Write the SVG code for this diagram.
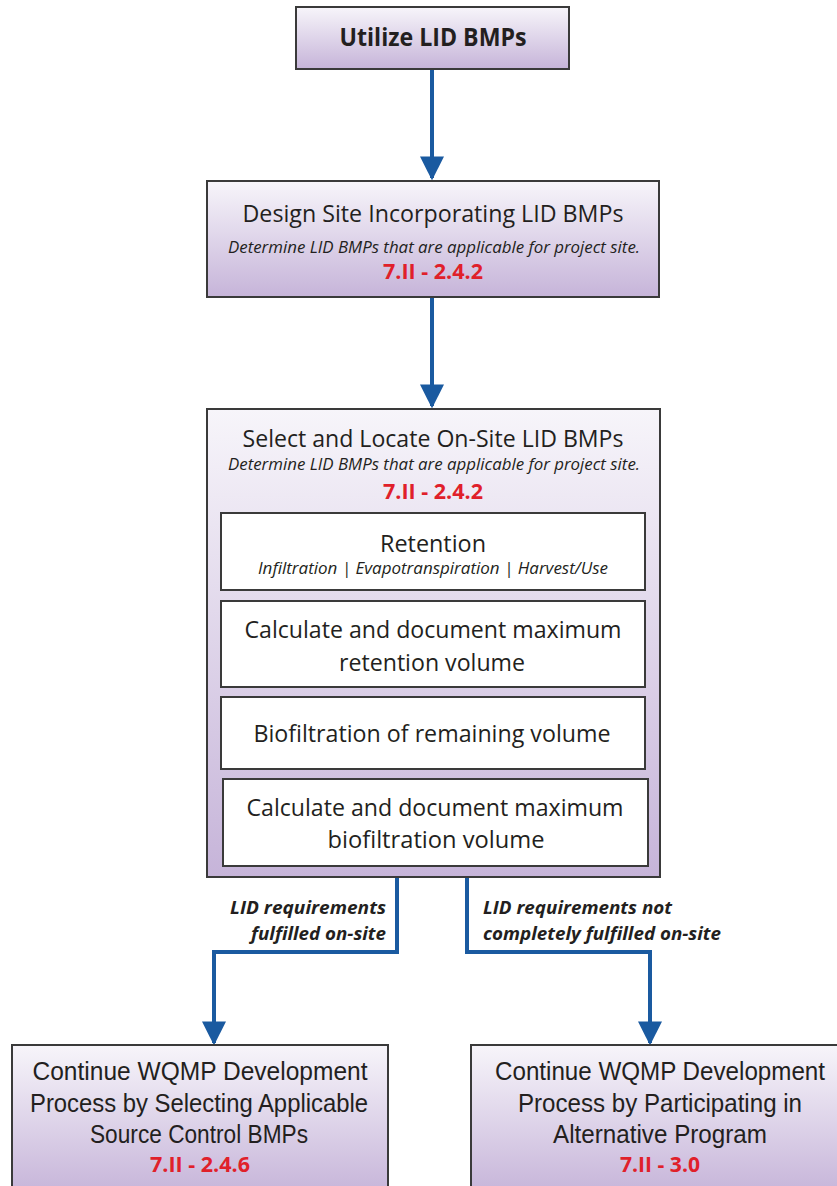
<svg xmlns="http://www.w3.org/2000/svg" width="837" height="1186" viewBox="0 0 837 1186">
  <style>
    .box { stroke: #3a3a3a; stroke-width: 2; }
    .inner { fill: #ffffff; stroke: #3a3a3a; stroke-width: 2; }
    .t { font-family: "Open Sans", "Liberation Sans", sans-serif; fill: #231f20; text-anchor: middle; }
    .title { font-size: 23.5px; }
    .bold { font-weight: bold; font-size: 24.5px; }
    .sub { font-size: 16px; font-style: italic; }
    .ref { font-family: "Open Sans", "Liberation Sans", sans-serif; font-size: 21px; font-weight: bold; fill: #e0202a; text-anchor: middle; }
    .cond { font-family: "Liberation Sans", "Open Sans", sans-serif; font-size: 25.5px; fill: #231f20; text-anchor: middle; }
    .lbl { font-family: "Open Sans", "Liberation Sans", sans-serif; font-size: 18px; font-weight: bold; font-style: italic; fill: #231f20; }
    .conn { fill: none; stroke: #1a5aa0; stroke-width: 4; }
  </style>
  <defs>
    <linearGradient id="lav" x1="0" y1="0" x2="0" y2="1">
      <stop offset="0" stop-color="#f7f5fa"/>
      <stop offset="1" stop-color="#c6b4d9"/>
    </linearGradient>
    <marker id="head" viewBox="0 0 10 10" refX="9" refY="5" markerWidth="6" markerHeight="6" orient="auto" markerUnits="strokeWidth">
      <path d="M0,0 L10,5 L0,10 Z" fill="#1a5aa0"/>
    </marker>
  </defs>

  <rect width="837" height="1186" fill="#ffffff"/>

  <!-- connectors -->
  <g id="connectors">
    <line class="conn" x1="432" y1="69" x2="432" y2="178" marker-end="url(#head)"/>
    <line class="conn" x1="432" y1="297" x2="432" y2="406" marker-end="url(#head)"/>
    <polyline class="conn" points="397,877 397,952 214,952 214,1043" marker-end="url(#head)"/>
    <polyline class="conn" points="467,877 467,952 650,952 650,1043" marker-end="url(#head)"/>
    <text class="lbl" x="386" y="914" text-anchor="end" textLength="156" lengthAdjust="spacingAndGlyphs">LID requirements</text>
    <text class="lbl" x="386" y="940" text-anchor="end" textLength="135" lengthAdjust="spacingAndGlyphs">fulfilled on-site</text>
    <text class="lbl" x="483" y="914" textLength="189" lengthAdjust="spacingAndGlyphs">LID requirements not</text>
    <text class="lbl" x="483" y="940" textLength="238" lengthAdjust="spacingAndGlyphs">completely fulfilled on-site</text>
  </g>

  <!-- start node -->
  <g id="utilize">
    <rect class="box" x="296" y="7" width="273" height="62" fill="url(#lav)"/>
    <text class="t bold" x="433" y="46" textLength="187" lengthAdjust="spacingAndGlyphs">Utilize LID BMPs</text>
  </g>

  <!-- design node -->
  <g id="design">
    <rect class="box" x="207" y="181" width="452" height="116" fill="url(#lav)"/>
    <text class="t title" x="433" y="222" textLength="381" lengthAdjust="spacingAndGlyphs">Design Site Incorporating LID BMPs</text>
    <text class="t sub" x="434" y="253" textLength="412" lengthAdjust="spacingAndGlyphs">Determine LID BMPs that are applicable for  project site.</text>
    <text class="ref" x="433" y="279" textLength="100" lengthAdjust="spacingAndGlyphs">7.II - 2.4.2</text>
  </g>

  <!-- select and locate node with its steps -->
  <g id="select">
    <rect class="box" x="207" y="409" width="453" height="468" fill="url(#lav)"/>
    <text class="t title" x="433" y="447" textLength="381" lengthAdjust="spacingAndGlyphs">Select and Locate On-Site LID BMPs</text>
    <text class="t sub" x="434" y="470" textLength="412" lengthAdjust="spacingAndGlyphs">Determine LID BMPs that are applicable for project site.</text>
    <text class="ref" x="433" y="499" textLength="100" lengthAdjust="spacingAndGlyphs">7.II - 2.4.2</text>
  </g>

  <g id="retention">
    <rect class="inner" x="221" y="513" width="424" height="77"/>
    <text class="t title" x="433" y="552" textLength="106" lengthAdjust="spacingAndGlyphs">Retention</text>
    <text class="t sub" x="433" y="574" textLength="350" lengthAdjust="spacingAndGlyphs">Infiltration | Evapotranspiration | Harvest/Use</text>
  </g>

  <g id="calc-retention">
    <rect class="inner" x="221" y="601" width="424" height="86"/>
    <text class="t title" x="433" y="638" textLength="377" lengthAdjust="spacingAndGlyphs">Calculate and document maximum</text>
    <text class="t title" x="432" y="671" textLength="186" lengthAdjust="spacingAndGlyphs">retention volume</text>
  </g>

  <g id="biofiltration">
    <rect class="inner" x="221" y="697" width="424" height="72"/>
    <text class="t title" x="432" y="742" textLength="357" lengthAdjust="spacingAndGlyphs">Biofiltration of remaining volume</text>
  </g>

  <g id="calc-biofiltration">
    <rect class="inner" x="223" y="779" width="425" height="87"/>
    <text class="t title" x="435" y="816" textLength="377" lengthAdjust="spacingAndGlyphs">Calculate and document maximum</text>
    <text class="t title" x="436" y="848" textLength="217" lengthAdjust="spacingAndGlyphs">biofiltration  volume</text>
  </g>

  <!-- outcome nodes -->
  <g id="source-control">
    <rect class="box" x="12" y="1045" width="376" height="150" fill="url(#lav)"/>
    <text class="cond" x="200" y="1080" textLength="335" lengthAdjust="spacingAndGlyphs">Continue  WQMP Development</text>
    <text class="cond" x="199" y="1112" textLength="338" lengthAdjust="spacingAndGlyphs">Process by Selecting Applicable</text>
    <text class="cond" x="199" y="1143" textLength="218" lengthAdjust="spacingAndGlyphs">Source Control BMPs</text>
    <text class="ref" x="200" y="1172" textLength="100" lengthAdjust="spacingAndGlyphs">7.II - 2.4.6</text>
  </g>

  <g id="alternative">
    <rect class="box" x="471" y="1045" width="378" height="150" fill="url(#lav)"/>
    <text class="cond" x="660" y="1080" textLength="330" lengthAdjust="spacingAndGlyphs">Continue WQMP Development</text>
    <text class="cond" x="660" y="1112" textLength="284" lengthAdjust="spacingAndGlyphs">Process by Participating in</text>
    <text class="cond" x="660" y="1143" textLength="214" lengthAdjust="spacingAndGlyphs">Alternative Program</text>
    <text class="ref" x="660" y="1172" textLength="80" lengthAdjust="spacingAndGlyphs">7.II - 3.0</text>
  </g>
</svg>
